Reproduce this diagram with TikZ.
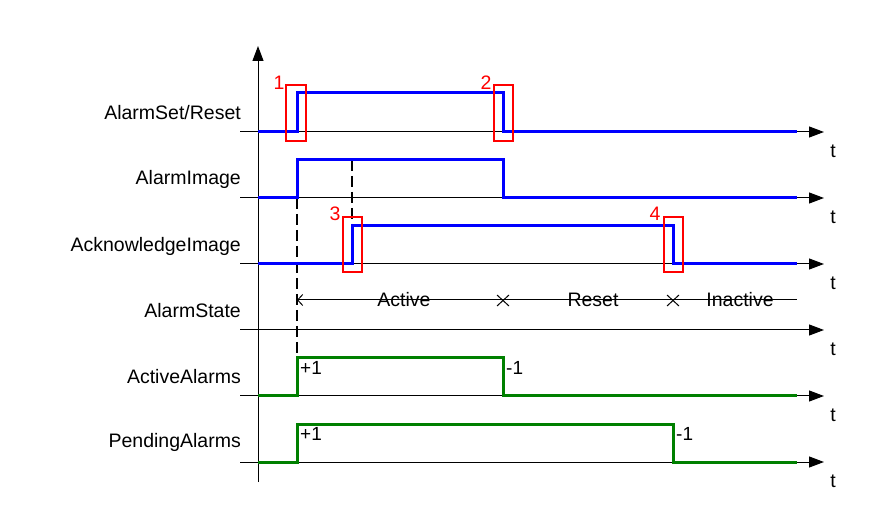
\documentclass[tikz,border=0pt]{standalone}
\usepackage{fontspec}
\setmainfont{Liberation Sans}
\usetikzlibrary{arrows.meta}
\definecolor{sigblue}{RGB}{0,0,255}
\definecolor{siggreen}{RGB}{0,128,0}
\begin{document}
\begin{tikzpicture}[x=1pt,y=-1pt,
  axisline/.style={line width=1pt,-{Triangle[length=15pt,width=11pt]}},
  bluesig/.style={draw=sigblue,line width=3pt,line join=miter},
  greensig/.style={draw=siggreen,line width=3pt,line join=miter},
  markbox/.style={draw=red,line width=1.2pt},
  marknum/.style={text=red,font=\fontsize{19.5}{22}\selectfont,inner sep=0pt},
  rowlbl/.style={anchor=east,font=\fontsize{19.5}{22}\selectfont,inner sep=0pt},
  tlbl/.style={font=\fontsize{19.5}{22}\selectfont,inner sep=0pt},
  statelbl/.style={font=\fontsize{19.5}{22}\selectfont,inner sep=0pt},
  countlbl/.style={anchor=west,font=\fontsize{19}{22}\selectfont,inner sep=0pt},
  guide/.style={line width=1.3pt,dash pattern=on 11pt off 5pt},
  crossmark/.style={line width=1pt}
]
\useasboundingbox (0,0) rectangle (876,529);

% vertical axis
\coordinate (vbot) at (258,482);
\coordinate (vtop) at (258,46);
\draw[axisline] (vbot) -- (vtop);

% horizontal axes and t labels
\foreach \yy/\nm in {132/a,198/b,264/c,330/d,396/e,462/f}{
  \coordinate (s\nm) at (240,\yy);
  \coordinate (e\nm) at (824,\yy);
  \draw[axisline] (s\nm) -- (e\nm);
  \node[tlbl] (t\nm) at (833,\yy+19) {t};
}

% row labels
\node[rowlbl] (l1) at (241,113) {AlarmSet/Reset};
\node[rowlbl] (l2) at (241,179) {AlarmImage};
\node[rowlbl] (l3) at (241,246) {AcknowledgeImage};
\node[rowlbl] (l4) at (241,311) {AlarmState};
\node[rowlbl] (l5) at (241,377) {ActiveAlarms};
\node[rowlbl] (l6) at (241,442) {PendingAlarms};

% dashed guides
\coordinate (g1a) at (297,198);
\coordinate (g1b) at (297,358);
\coordinate (g2a) at (352,160);
\coordinate (g2b) at (352,226);
\draw[guide] (g1a) -- (g1b);
\draw[guide] (g2a) -- (g2b);

% blue signals
\draw[bluesig] (258,132) -- (297,132) -- (297,93) -- (503,93) -- (503,132) -- (797,132);
\draw[bluesig] (258,198) -- (297,198) -- (297,160) -- (503,160) -- (503,198) -- (797,198);
\draw[bluesig] (258,264) -- (352,264) -- (352,226) -- (673,226) -- (673,264) -- (797,264);

% green signals
\draw[greensig] (258,396) -- (297,396) -- (297,358) -- (503,358) -- (503,396) -- (797,396);
\draw[greensig] (258,462) -- (297,462) -- (297,424) -- (673,424) -- (673,462) -- (797,462);

% red marker boxes
\draw[markbox] (286,85) rectangle (306,141);
\draw[markbox] (494,85) rectangle (513,141);
\draw[markbox] (343,217) rectangle (362,272);
\draw[markbox] (664,217) rectangle (683,272);
\node[marknum] (n1) at (279,83) {1};
\node[marknum] (n2) at (486,83) {2};
\node[marknum] (n3) at (335,214) {3};
\node[marknum] (n4) at (655,214) {4};

% alarm state line
\coordinate (st0) at (297,300);
\coordinate (st1) at (797,300);
\draw[line width=1pt,{Straight Barb[length=5pt,width=11pt]}-] (st0) -- (st1);
\foreach \xx in {503,673}{
  \draw[crossmark] (\xx-6,295) -- (\xx+6,306);
  \draw[crossmark] (\xx-6,306) -- (\xx+6,295);
}
\node[statelbl] (sa) at (404,300) {Active};
\node[statelbl] (sr) at (593,300) {Reset};
\node[statelbl] (si) at (740,300) {Inactive};

% counter labels
\node[countlbl] (c1) at (300,368) {+1};
\node[countlbl] (c2) at (506,368) {-1};
\node[countlbl] (c3) at (300,434) {+1};
\node[countlbl] (c4) at (676,434) {-1};
\end{tikzpicture}
\end{document}
